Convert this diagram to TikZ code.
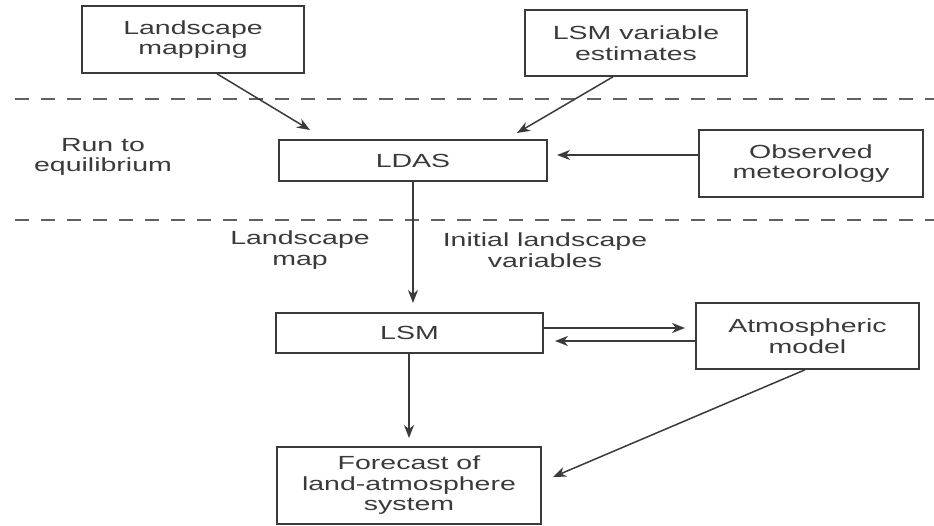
\documentclass[tikz,border=0pt]{standalone}
\usepackage{fontspec}
\setmainfont{Liberation Sans}[FakeStretch=1.5]
\usetikzlibrary{arrows.meta}
\definecolor{ink}{HTML}{3A3A3A}
\tikzset{
  box/.style={draw=ink, line width=1.6pt, text=ink, align=center, inner sep=0pt,
     font=\fontsize{19}{20.5}\selectfont},
  lbl/.style={text=ink, align=center, font=\fontsize{19}{20.5}\selectfont},
  arr/.style={draw=ink, line width=1.5pt, -{Stealth[length=13pt,width=10pt,inset=4pt]}},
  sep/.style={draw=ink!80, line width=1.4pt, dash pattern=on 14pt off 12pt}
}
\begin{document}
\begin{tikzpicture}[x=1pt,y=-1pt]
\useasboundingbox (0,0) rectangle (934,525);
% boxes
\node[box, minimum width=222pt, minimum height=67pt] (lm) at (193,39.5) {Landscape\\mapping};
\node[box, minimum width=222pt, minimum height=66pt] (est) at (636,43) {LSM variable\\estimates};
\node[box, minimum width=268pt, minimum height=41pt] (ldas) at (413,160.5) {LDAS};
\node[box, minimum width=224pt, minimum height=67pt] (obs) at (811,163.5) {Observed\\meteorology};
\node[box, minimum width=267pt, minimum height=40pt] (lsm) at (409.5,333) {LSM};
\node[box, minimum width=223pt, minimum height=66pt] (atm) at (807.5,336) {Atmospheric\\model};
\node[box, minimum width=264pt, minimum height=77pt] (fc) at (409,485.5) {Forecast of\\land-atmosphere\\system};
% labels
\node[lbl] (run) at (103,157) {Run to\\equilibrium};
\node[lbl] (lmap) at (300,250) {Landscape\\map};
\node[lbl] (ilv) at (545,250) {Initial landscape\\variables};
% separators
\coordinate (d1a) at (15,99); \coordinate (d1b) at (934,99);
\coordinate (d2a) at (15,220); \coordinate (d2b) at (934,220);
\draw[sep] (d1a) -- (d1b);
\draw[sep] (d2a) -- (d2b);
% arrow end points
\coordinate (t1) at (310,130);
\coordinate (t2) at (517,133);
\coordinate (t3) at (557,155);
\coordinate (t4) at (413,303);
\coordinate (t5) at (409,438);
\coordinate (t6) at (685,328);
\coordinate (t7) at (555,341);
\coordinate (t8) at (553,477);
% connectors
\draw[arr] (lm.south -| 217,0) -- (t1);
\draw[arr] (est.south -| 613,0) -- (t2);
\draw[arr] (obs.west |- t3) -- (t3);
\draw[arr] (ldas.south -| t4) -- (t4);
\draw[arr] (lsm.south -| t5) -- (t5);
\draw[arr] (lsm.east |- t6) -- (t6);
\draw[arr] (atm.west |- t7) -- (t7);
\draw[arr] (atm.south -| 805,0) -- (t8);
\end{tikzpicture}
\end{document}
